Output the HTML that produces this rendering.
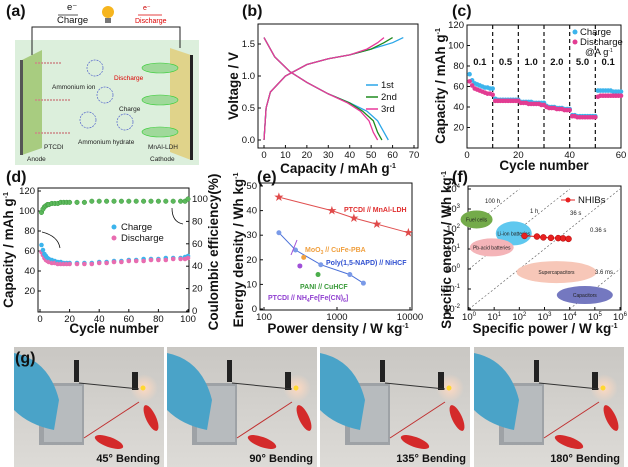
<!DOCTYPE html>
<html><head><meta charset="utf-8">
<style>
html,body{margin:0;padding:0;background:#fff;}
svg{display:block;font-family:"Liberation Sans",sans-serif;}
.t{font-size:9.5px;fill:#111;}
.ti{font-size:13.5px;font-weight:bold;fill:#111;}
.pl{font-size:16px;font-weight:bold;fill:#111;}
</style></head>
<body>
<svg id="fig" width="628" height="467" viewBox="0 0 628 467" xmlns="http://www.w3.org/2000/svg">
<g>
  <text class="pl" x="6" y="16">(a)</text>
  <rect x="15" y="40" width="184" height="125" fill="#dcefdc"/>
  <polyline points="32,55 32,27 180,27 180,48" fill="none" stroke="#222" stroke-width="1"/>
  <circle cx="108" cy="12" r="6" fill="#f6b51e"/>
  <rect x="105" y="18" width="6" height="5" fill="#777"/>
  <text x="67" y="10" class="t" font-size="7">e⁻</text>
  <line x1="58" y1="15" x2="78" y2="15" stroke="#222" stroke-width="0.8"/>
  <text x="57" y="23" class="t" font-size="7">Charge</text>
  <text x="143" y="10" font-size="7" fill="#c00">e⁻</text>
  <line x1="138" y1="15" x2="162" y2="15" stroke="#d00" stroke-width="0.8"/>
  <text x="135" y="23" font-size="7" fill="#d00">Discharge</text>
  <polygon points="22,60 42,50 42,148 22,155" fill="#a8cc80"/>
  <rect x="20" y="60" width="3" height="95" fill="#555"/>
  <polygon points="170,48 191,55 191,160 170,152" fill="#e0d38a"/>
  <rect x="190" y="55" width="3" height="105" fill="#222"/>
  <g fill="#9fd99a" stroke="#3c3" stroke-width="0.6">
    <ellipse cx="160" cy="68" rx="18" ry="5"/><ellipse cx="160" cy="100" rx="18" ry="5"/><ellipse cx="160" cy="132" rx="18" ry="5"/>
  </g>
  <g fill="none" stroke="#c88" stroke-width="1.5" stroke-dasharray="2,1">
    <line x1="35" y1="63" x2="62" y2="63"/><line x1="35" y1="100" x2="70" y2="100"/><line x1="35" y1="133" x2="70" y2="133"/>
  </g>
  <g fill="none" stroke="#56c" stroke-width="0.7" stroke-dasharray="2,1">
    <circle cx="95" cy="68" r="8"/><circle cx="105" cy="95" r="8"/><circle cx="88" cy="120" r="8"/><circle cx="125" cy="122" r="8"/>
  </g>
  <text x="52" y="89" font-size="6.5" fill="#222">Ammonium ion</text>
  <text x="78" y="144" font-size="6.5" fill="#222">Ammonium hydrate</text>
  <text x="114" y="80" font-size="6.5" fill="#d00">Discharge</text>
  <text x="119" y="111" font-size="6.5" fill="#222">Charge</text>
  <text x="44" y="149" font-size="6.5" fill="#222">PTCDI</text>
  <text x="148" y="149" font-size="6.5" fill="#222">MnAl-LDH</text>
  <text x="27" y="161" font-size="6.5" fill="#222">Anode</text>
  <text x="150" y="161" font-size="6.5" fill="#222">Cathode</text>
</g>
<g id="pb"></g>
<g id="pc"></g>
<g id="pd"></g>
<g id="pe"></g>
<g id="pf"></g>
<g id="pg"></g>
</svg>
<script>
const bChargeCap1=[0,1,3,10,20,30,40,50,60,65];
const bChargeCap2=[0,1,3,10,20,30,40,50,56,60];
const bChargeCap3=[0,1,3,10,20,30,40,48,53,56];
const bChargeV=[0,0.5,0.75,1.0,1.18,1.27,1.33,1.42,1.52,1.6];
const bDisCap1=[0,5,12,20,30,40,48,53,56,58];
const bDisCap2=[0,5,12,20,30,40,46,51,53,55];
const bDisCap3=[0,5,12,20,30,39,45,49,51,53];
const bDisV=[1.6,1.3,1.07,0.9,0.72,0.58,0.45,0.3,0.12,0];
const bXTicks=[0,10,20,30,40,50,60,70];
const bYTicks=[0.0,0.5,1.0,1.5];
const cCharge=[72,66,63,62,61,60,59,59,58,58,48,47,47,47,47,47,47,47,47,47,45,45,45,45,45,44,44,44,44,44,41,40,40,40,39,39,39,38,38,38,32,32,31,31,31,31,31,31,31,31,56,56,56,56,56,56,55,55,55,55];
const cDischarge=[65,61,58,57,56,55,54,53,53,52,46,46,46,46,46,46,46,46,46,46,44,44,44,43,43,43,43,43,42,42,40,39,39,39,38,38,38,37,37,37,31,31,30,30,30,30,30,30,30,30,50,51,51,51,51,51,51,51,51,51];
const cRates=["0.1","0.5","1.0","2.0","5.0","0.1"];
const cXTicks=[0,20,40,60];
const cYTicks=[20,40,60,80,100,120];
const dCycles=[1,2,3,4,5,6,8,10,12,14,16,18,20,25,30,35,40,45,50,55,60,65,70,75,80,85,90,95,98,100];
const dCharge=[66,61,57,55,53,52,51,50,49,49,48,48,48,48,48,48,49,49,50,50,51,51,52,52,52,53,53,53,54,55];
const dDischarge=[59,56,53,51,50,49,48,48,47,47,47,47,47,47,47,47,48,48,49,49,50,50,50,51,51,51,52,52,52,53];
const dCE=[88,91,93,94,95,95,96,96,96,97,97,97,97,97,97,98,98,98,98,98,98,98,98,98,98,98,98,98,98,100];
const dXTicks=[0,20,40,60,80,100];
const dYTicks=[20,40,60,80,100,120];
const dY2Ticks=[0,20,40,60,80,100];
const eRedP=[160,850,1700,3500,9500];
const eRedE=[45.5,40,37,34.5,31];
const eBlueP=[160,270,600,1500,2300];
const eBlueE=[31,24,18,14,10.5];
const eOtherP=[350,550,310];
const eOtherE=[21,14,17.5];
const eYTicks=[0,10,20,30,40,50];
const eXTicks=[100,1000,10000];
const fP=[160,500,900,1800,3500,5500,9000];
const fE=[45,42,38,36,35,34,32];
const fXExp=[0,1,2,3,4,5,6];
const fYExp=[-2,-1,0,1,2,3,4];

const NS="http://www.w3.org/2000/svg";
function mk(parent,tag,attrs,text){const e=document.createElementNS(NS,tag);for(const k in attrs)e.setAttribute(k,attrs[k]);if(text!==undefined)e.textContent=text;parent.appendChild(e);return e;}
function lin(d0,d1,r0,r1){return v=>r0+(v-d0)*(r1-r0)/(d1-d0);}
function lg(d0,d1,r0,r1){return v=>r0+(Math.log10(v)-Math.log10(d0))*(r1-r0)/(Math.log10(d1)-Math.log10(d0));}
function frame(g,x0,y0,x1,y1){const r=mk(g,'rect',{x:x0,y:y0,width:x1-x0,height:y1-y0,fill:'none',stroke:'#111','stroke-width':1});}
function line(g,xs,ys,sx,sy,color,w,name){const p=xs.map((x,i)=>sx(x).toFixed(1)+','+sy(ys[i]).toFixed(1)).join(' ');const l=mk(g,'polyline',{points:p,fill:'none',stroke:color,'stroke-width':w});return l;}
function rtext(g,x,y,s,name){const t=mk(g,'text',{x:x,y:y,class:'ti','text-anchor':'middle',transform:`rotate(-90 ${x} ${y})`},s);return t;}
function xtick(g,x,y,s){mk(g,'line',{x1:x,y1:y,x2:x,y2:y-3,stroke:'#111'});const t=mk(g,'text',{x:x,y:y+10,class:'t','text-anchor':'middle'},s);}
function ytick(g,x,y,s,right){mk(g,'line',{x1:x,y1:y,x2:right?x-3:x+3,y2:y,stroke:'#111'});const t=mk(g,'text',{x:right?x+3:x-3,y:y+3,class:'t','text-anchor':right?'start':'end'},s);}

(function(){const g=document.getElementById('pb');
const X0=258,X1=418,Y0=24,Y1=148;const sx=lin(0,70,264,414),sy=lin(0,1.5,140,44);
mk(g,'text',{x:242,y:16,class:'pl'},'(b)');
frame(g,X0,Y0,X1,Y1);
bXTicks.forEach(v=>xtick(g,sx(v),Y1,String(v)));
bYTicks.forEach(v=>ytick(g,X0,sy(v),v.toFixed(1)));
const cols=['#2aa6e8','#1f8a1f','#e8389a'];
[[bChargeCap1,bDisCap1],[bChargeCap2,bDisCap2],[bChargeCap3,bDisCap3]].forEach((c,i)=>{
 line(g,c[0],bChargeV,sx,sy,cols[i],1.3,'charge-curve-'+(i+1));
 line(g,c[1],bDisV,sx,sy,cols[i],1.3,'discharge-curve-'+(i+1));});
['1st','2nd','3rd'].forEach((s,i)=>{const y=85+i*12;mk(g,'line',{x1:366,y1:y,x2:378,y2:y,stroke:cols[i],'stroke-width':1.5});const t=mk(g,'text',{x:381,y:y+3,class:'t'},s);});
const xt=mk(g,'text',{x:338,y:173,class:'ti','text-anchor':'middle'});xt.innerHTML='Capacity / mAh g<tspan dy="-5" font-size="7">-1</tspan>';
rtext(g,238,86,'Voltage / V','y-axis-title');})();

(function(){const g=document.getElementById('pc');
const X0=467,X1=621,Y0=25,Y1=148;const sx=lin(0,60,467,621),sy=lin(0,120,148,25);
mk(g,'text',{x:452,y:16,class:'pl'},'(c)');
frame(g,X0,Y0,X1,Y1);
cXTicks.forEach(v=>xtick(g,sx(v),Y1,String(v)));
cYTicks.forEach(v=>ytick(g,X0,sy(v),String(v)));
[10,20,30,40,50].forEach(v=>{const l=mk(g,'line',{x1:sx(v),y1:Y0,x2:sx(v),y2:Y1,stroke:'#111','stroke-width':1.2,'stroke-dasharray':'4,3'});});
cRates.forEach((s,i)=>{const t=mk(g,'text',{x:sx(i*10+5),y:sy(81),class:'t','text-anchor':'middle','font-weight':'bold'},s);});
cCharge.forEach((v,i)=>{const c=mk(g,'circle',{cx:sx(i+1),cy:sy(v),r:2.3,fill:'#3cb4ec'});});
cDischarge.forEach((v,i)=>{const c=mk(g,'circle',{cx:sx(i+1),cy:sy(v),r:2.3,fill:'#e23c92'});});
mk(g,'circle',{cx:575,cy:32,r:2.5,fill:'#3cb4ec'});mk(g,'text',{x:580,y:35,class:'t','font-size':'7'},'Charge');
mk(g,'circle',{cx:575,cy:42,r:2.5,fill:'#e23c92'});mk(g,'text',{x:580,y:45,class:'t','font-size':'7'},'Discharge');
const at=mk(g,'text',{x:585,y:55,class:'t','font-size':'7'});at.innerHTML='@A g<tspan dy="-3" font-size="5">-1</tspan>';
const xt=mk(g,'text',{x:544,y:170,class:'ti','text-anchor':'middle'},'Cycle number');
const yt=rtext(g,445,86,'','y-axis-title');yt.innerHTML='Capacity / mAh g<tspan dy="-5" font-size="7">-1</tspan>';})();

(function(){const g=document.getElementById('pd');
const X0=38,X1=189,Y0=188,Y1=312;const sx=lin(0,100,40,188),sy=lin(0,120,311,191),sy2=lin(0,100,311,199);
mk(g,'text',{x:6,y:182,class:'pl'},'(d)');
frame(g,X0,Y0,X1,Y1);
dXTicks.forEach(v=>xtick(g,sx(v),Y1,String(v)));
dYTicks.forEach(v=>ytick(g,X0,sy(v),String(v)));
dY2Ticks.forEach(v=>ytick(g,X1,sy2(v),String(v),true));
dCycles.forEach((c,i)=>{
 let e=mk(g,'circle',{cx:sx(c),cy:sy2(dCE[i]),r:2.3,fill:'#5cb85c',stroke:'#3a9a3a','stroke-width':0.5});
 e=mk(g,'circle',{cx:sx(c),cy:sy(dCharge[i]),r:2.3,fill:'#3cb4ec'});
 e=mk(g,'circle',{cx:sx(c),cy:sy(dDischarge[i]),r:2.3,fill:'#e86cb0'});});
mk(g,'path',{d:'M42,232 Q58,236 60,248',fill:'none',stroke:'#111','stroke-width':0.8});
mk(g,'path',{d:'M172,208 Q172,222 183,224',fill:'none',stroke:'#111','stroke-width':0.8});
mk(g,'circle',{cx:114,cy:227,r:2.5,fill:'#3cb4ec'});mk(g,'text',{x:121,y:230,class:'t','font-size':'8'},'Charge');
mk(g,'circle',{cx:114,cy:238,r:2.5,fill:'#e86cb0'});mk(g,'text',{x:121,y:241,class:'t','font-size':'8'},'Discharge');
const xt=mk(g,'text',{x:114,y:333,class:'ti','text-anchor':'middle'},'Cycle number');
const yt=rtext(g,13,250,'','y-axis-title');yt.innerHTML='Capacity / mAh g<tspan dy="-5" font-size="7">-1</tspan>';
rtext(g,218,252,'Coulombic efficiency(%)','y2-axis-title');})();

(function(){const g=document.getElementById('pe');
const X0=260,X1=412,Y0=183,Y1=310;const sx=lg(100,10000,264,410),sy=lin(0,50,309,186);
mk(g,'text',{x:257,y:182,class:'pl'},'(e)');
frame(g,X0,Y0,X1,Y1);
eXTicks.forEach(v=>xtick(g,sx(v),Y1,String(v)));
eYTicks.forEach(v=>ytick(g,X0,sy(v),String(v)));
line(g,eRedP,eRedE,sx,sy,'#e05050',1,'ptcdi-mnal-ldh-line');
eRedP.forEach((p,i)=>{const t=mk(g,'text',{x:sx(p),y:sy(eRedE[i])+4,'text-anchor':'middle','font-size':'12',fill:'#e04a4a'},'★');});
line(g,eBlueP,eBlueE,sx,sy,'#4a70d8',1,'poly-napd-line');
eBlueP.forEach((p,i)=>{const c=mk(g,'circle',{cx:sx(p),cy:sy(eBlueE[i]),r:2.5,fill:'#7a9ae8'});});
const oc=['#f0a040','#4cae4c','#a050d8'];
eOtherP.forEach((p,i)=>{const c=mk(g,'circle',{cx:sx(p),cy:sy(eOtherE[i]),r:2.5,fill:oc[i]});});
mk(g,'line',{x1:297,y1:240,x2:291,y2:255,stroke:'#a050d8','stroke-width':1});
mk(g,'text',{x:344,y:212,'font-size':'7','font-weight':'bold',fill:'#e03030'},'PTCDI // MnAl-LDH');
const m=mk(g,'text',{x:305,y:252,'font-size':'7','font-weight':'bold',fill:'#f0a040'});m.innerHTML='MoO<tspan dy="2" font-size="5">3</tspan><tspan dy="-2"> // CuFe-PBA</tspan>';
mk(g,'text',{x:326,y:265,'font-size':'7','font-weight':'bold',fill:'#3050d0'},'Poly(1,5-NAPD) // NiHCF');
mk(g,'text',{x:300,y:289,'font-size':'7','font-weight':'bold',fill:'#3a9a3a'},'PANI // CuHCF');
const pp=mk(g,'text',{x:268,y:300,'font-size':'7','font-weight':'bold',fill:'#9040d0'});pp.innerHTML='PTCDI // NH<tspan dy="2" font-size="5">4</tspan><tspan dy="-2">Fe[Fe(CN)</tspan><tspan dy="2" font-size="5">6</tspan><tspan dy="-2">]</tspan>';
const xt=mk(g,'text',{x:338,y:333,class:'ti','text-anchor':'middle'});xt.innerHTML='Power density / W kg<tspan dy="-5" font-size="7">-1</tspan>';
const yt=rtext(g,243,250,'','y-axis-title');yt.innerHTML='Energy density / Wh kg<tspan dy="-5" font-size="7">-1</tspan>';})();

(function(){const g=document.getElementById('pf');
const X0=468,X1=621,Y0=186,Y1=310;const sx=lg(1,1e6,469,620),sy=lg(0.01,1e4,309,189);
mk(g,'text',{x:452,y:182,class:'pl'},'(f)');
frame(g,X0,Y0,X1,Y1);
fXExp.forEach(e=>{const x=sx(Math.pow(10,e));mk(g,'line',{x1:x,y1:Y1,x2:x,y2:Y1-3,stroke:'#111'});const t=mk(g,'text',{x:x,y:Y1+10,class:'t','text-anchor':'middle'});t.innerHTML='10<tspan dy="-4" font-size="6">'+e+'</tspan>';});
fYExp.forEach(e=>{const y=sy(Math.pow(10,e));mk(g,'line',{x1:X0,y1:y,x2:X0+3,y2:y,stroke:'#111'});const t=mk(g,'text',{x:X0-8,y:y+3,class:'t','text-anchor':'end'});t.innerHTML='10<tspan dy="-4" font-size="6">'+e+'</tspan>';});
[100,1,0.01,0.000001].forEach(h=>{const x0=Math.max(1,0.01/h),x1=Math.min(1e6,1e4/h);mk(g,'line',{x1:sx(x0),y1:sy(x0*h),x2:sx(x1),y2:sy(x1*h),stroke:'#555','stroke-width':0.6,'stroke-dasharray':'2,2'});});
const reg=[[2,300,20,12,'#74ab4a','Fuel cells'],[60,60,24,18,'#5fc8ef','Li-ion batteries'],[8,12,32,12,'#f4b4b8','Pb-acid batteries'],[3000,0.7,68,16,'#f7c7b8','Supercapacitors'],[40000,0.05,44,12,'#7478c0','Capacitors']];
reg.forEach(r=>{const e=mk(g,'ellipse',{cx:sx(r[0]),cy:sy(r[1]),rx:r[2]/2+6,ry:r[3]/2+3,fill:r[4]});mk(g,'text',{x:sx(r[0]),y:sy(r[1])+2,'font-size':'5',fill:'#222','text-anchor':'middle'},r[5]);});
line(g,fP,fE,sx,sy,'#e02020',1,'nhibs-line');
fP.forEach((p,i)=>{const c=mk(g,'circle',{cx:sx(p),cy:sy(fE[i]),r:3,fill:'#e82020',stroke:'#a00','stroke-width':0.5});});
mk(g,'line',{x1:561,y1:200,x2:575,y2:200,stroke:'#e02020'});mk(g,'circle',{cx:568,cy:200,r:2.5,fill:'#e82020'});
mk(g,'text',{x:578,y:203,class:'t','font-size':'7'},'NHIBs');
mk(g,'text',{x:485,y:203,'font-size':'6',fill:'#222'},'100 h');mk(g,'text',{x:530,y:213,'font-size':'6',fill:'#222'},'1 h');
mk(g,'text',{x:570,y:215,'font-size':'6',fill:'#222'},'36 s');mk(g,'text',{x:590,y:232,'font-size':'6',fill:'#222'},'0.36 s');
mk(g,'text',{x:595,y:274,'font-size':'6',fill:'#222'},'3.6 ms');
const xt=mk(g,'text',{x:545,y:333,class:'ti','text-anchor':'middle'});xt.innerHTML='Specific power / W kg<tspan dy="-5" font-size="7">-1</tspan>';
const yt=rtext(g,451,250,'','y-axis-title');yt.innerHTML='Specific energy / Wh kg<tspan dy="-5" font-size="7">-1</tspan>';})();

(function(){const g=document.getElementById('pg');
const xs=[14,167,320,474],labels=['45° Bending','90° Bending','135° Bending','180° Bending'];
const defs=mk(g,'defs',{});const gr=mk(defs,'linearGradient',{id:'bg',x1:0,y1:0,x2:0,y2:1});mk(gr,'stop',{offset:0,'stop-color':'#c9c7c3'});mk(gr,'stop',{offset:1,'stop-color':'#dddbd7'});
const gl=mk(defs,'radialGradient',{id:'glow'});mk(gl,'stop',{offset:0,'stop-color':'#ffd9c0'});mk(gl,'stop',{offset:1,'stop-color':'#ffd9c0','stop-opacity':0});
xs.forEach((x,i)=>{const p=mk(g,'g',{});
 mk(p,'rect',{x:x,y:347,width:150,height:120,fill:'url(#bg)'});
 mk(p,'circle',{cx:x+130,cy:388,r:14,fill:'url(#glow)'});
 mk(p,'rect',{x:x+25,y:383,width:45,height:62,fill:'#9ea2a6'});
 mk(p,'rect',{x:x+30,y:386,width:38,height:56,fill:'#b7bbbe'});
 mk(p,'path',{d:`M${x} 353 Q${x+35} 360 ${x+45} 400 L${x+40} 430 Q${x+15} 425 ${x} 410 Z`,fill:'#4aa3c8'});
 mk(p,'rect',{x:x+60,y:360,width:5,height:22,fill:'#222'});
 mk(p,'rect',{x:x+118,y:372,width:6,height:18,fill:'#222'});
 mk(p,'line',{x1:x+65,y1:383,x2:x+125,y2:389,stroke:'#333','stroke-width':1});
 mk(p,'line',{x1:x+70,y1:438,x2:x+125,y2:402,stroke:'#c03030','stroke-width':1});
 mk(p,'ellipse',{cx:x+95,cy:442,rx:15,ry:5,fill:'#d42a2a',transform:`rotate(20 ${x+95} 442)`});
 mk(p,'ellipse',{cx:x+137,cy:418,rx:5,ry:14,fill:'#d42a2a',transform:`rotate(-25 ${x+137} 418)`});
 mk(p,'circle',{cx:x+129,cy:388,r:2.5,fill:'#ffd830'});
 const t=mk(p,'text',{x:x+146,y:462,'text-anchor':'end','font-size':'11','font-weight':'bold',fill:'#111'},labels[i]);});
mk(g,'text',{x:15,y:363,class:'pl'},'(g)');})();
</script>
</body></html>
